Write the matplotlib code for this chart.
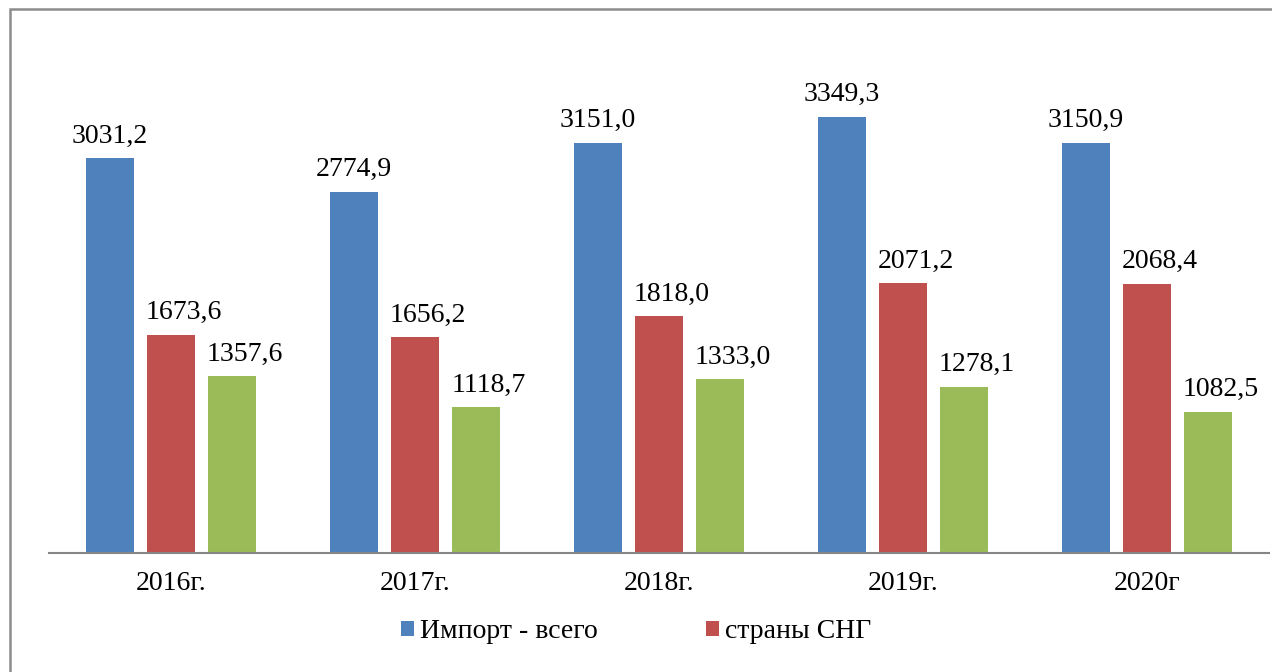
import numpy as np
import matplotlib
matplotlib.use("Agg")
import matplotlib.pyplot as plt
from matplotlib.patches import Rectangle

plt.rcParams['font.family'] = ['Liberation Serif', 'DejaVu Serif']

# данные
years = ['2016г.', '2017г.', '2018г.', '2019г.', '2020г']
import_total = [3031.2, 2774.9, 3151.0, 3349.3, 3150.9]
cis = [1673.6, 1656.2, 1818.0, 2071.2, 2068.4]
other = [1357.6, 1118.7, 1333.0, 1278.1, 1082.5]

colors = ['#4F81BD', '#C0504D', '#9BBB59']
series = [(import_total, 'Импорт - всего', 0),
          (cis, 'страны СНГ', 13),
          (other, None, 13)]

fig = plt.figure(figsize=(12.72, 6.72), dpi=100)
ax = fig.add_axes([49/1272, 119/672, 1220/1272, 521/672])

x = np.arange(len(years))
w = 48/244
step = 61/244
for i, (vals, lab, dx) in enumerate(series):
    pos = x + (i - 1)*step
    ax.bar(pos, vals, width=w, color=colors[i], label=lab)
    for p, v in zip(pos, vals):
        ax.annotate(('%.1f' % v).replace('.', ','), (p, v), xytext=(dx*0.72, 7),
                    textcoords='offset points', ha='center', va='bottom', fontsize=20)

ax.set_xlim(-0.5, len(years) - 0.5)
ax.set_ylim(0, 4000)
ax.set_xticks(x)
ax.set_xticklabels(years, fontsize=20)
ax.tick_params(axis='x', length=0, pad=13)
ax.set_yticks([])
for s in ['top', 'right', 'left']:
    ax.spines[s].set_visible(False)
ax.spines['bottom'].set_color('#868686')
ax.spines['bottom'].set_linewidth(1.5)

handles, labels = ax.get_legend_handles_labels()
fig.legend(handles, labels, loc='center', bbox_to_anchor=(636/1272, 1 - 632/672),
           ncol=2, frameon=False, fontsize=20, handlelength=0.47, handleheight=0.47,
           handletextpad=0.22, columnspacing=3.9)

fig.patches.append(Rectangle((10/1272, -0.1), 1.2, 1 - 9/672 + 0.1, transform=fig.transFigure,
                             fill=False, edgecolor='#8c8c8c', linewidth=1.8))

fig.savefig('out.png', dpi=100)
